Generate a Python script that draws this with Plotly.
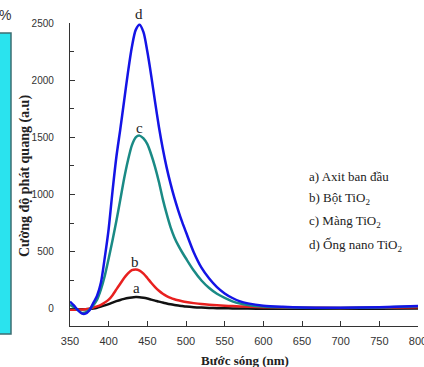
import plotly.graph_objects as go

wavelength = [350, 355, 360, 365, 370, 375, 380, 385, 390, 395, 400, 405, 410, 415, 420,
              425, 430, 435, 440, 445, 450, 455, 460, 465, 470, 475, 480, 485, 490, 495,
              500, 510, 520, 530, 540, 550, 560, 570, 580, 600, 625, 650, 700, 750, 800]

a_axit = [-5, -5, -5, -4, -3, -1, 3, 10, 20, 30, 42, 55, 67, 78, 87,
          95, 100, 103, 102, 97, 90, 81, 72, 63, 55, 47, 40, 34, 29, 25,
          21, 15, 11, 8, 6, 5, 4, 3, 2, 1, 0, 0, 0, 0, 2]

b_bot = [-8, -8, -6, -5, -3, 2, 12, 22, 35, 55, 80, 120, 170, 220, 270,
         310, 338, 345, 335, 308, 270, 228, 190, 158, 132, 112, 96, 84, 75, 67,
         60, 50, 42, 36, 31, 27, 24, 21, 19, 15, 12, 10, 8, 10, 15]

c_mang = [35, 15, -10, -35, -32, -8, 30, 80, 170, 290, 440, 600, 770, 953, 1140,
          1300, 1430, 1500, 1515, 1490, 1440, 1350, 1240, 1110, 960, 830, 715, 625, 555, 495,
          440, 335, 248, 182, 132, 96, 66, 46, 34, 20, 13, 10, 8, 12, 22]

d_ong = [64, 30, -10, -40, -42, -15, 50, 115, 230, 450, 700, 1030, 1330, 1570, 1820,
         2070, 2290, 2440, 2485, 2420, 2250, 2040, 1810, 1590, 1400, 1235, 1095, 970, 860, 760,
         670, 495, 360, 265, 190, 135, 95, 65, 48, 28, 18, 12, 10, 15, 25]

series_names = ["a", "b", "c", "d"]
series_values = [a_axit, b_bot, c_mang, d_ong]
series_colors = ["#111111", "#e8201f", "#1a8a85", "#1414e6"]

# label positions: wavelength and pixel row in the picture (converted to paper)
label_x = [436, 434.5, 439.5, 439.5]
label_py = [288, 262, 128, 14]

legend_lines = ["a) Axit ban đầu", "b) Bột TiO<sub>2</sub>",
                "c) Màng TiO<sub>2</sub>", "d) Ống nano TiO<sub>2</sub>"]
legend_py = [176, 198, 221, 245]

x_ticks = [350, 400, 450, 500, 550, 600, 650, 700, 750, 800]
y_ticks = [0, 500, 1000, 1500, 2000, 2500]

fig = go.Figure()
for name, vals, col in zip(series_names, series_values, series_colors):
    fig.add_trace(go.Scatter(x=wavelength, y=vals, mode="lines", name=name,
                             line=dict(color=col, width=2.5, shape="spline", smoothing=0.8),
                             showlegend=False))

serif = "Liberation Serif, Times New Roman, serif"
sans = "Liberation Sans Narrow, Liberation Sans, Arial, sans-serif"

def py2paper(py):
    return (326 - py) / 303

for name, lx, lpy in zip(series_names, label_x, label_py):
    fig.add_annotation(x=lx, xref="x", y=py2paper(lpy), yref="paper", text=name,
                       showarrow=False, font=dict(family=serif, size=15, color="#222"),
                       xanchor="center", yanchor="middle")

for txt, lpy in zip(legend_lines, legend_py):
    fig.add_annotation(x=(307 - 70) / 348, xref="paper", y=py2paper(lpy), yref="paper",
                       text=txt, showarrow=False, xanchor="left", yanchor="middle",
                       font=dict(family=serif, size=13, color="#222"))

# axis titles
fig.add_annotation(x=(25 - 70) / 348, xref="paper", y=py2paper(176), yref="paper",
                   text="<b>Cường độ phát quang (a.u)</b>", textangle=-90, showarrow=False,
                   xanchor="center", yanchor="middle",
                   font=dict(family=serif, size=14, color="#222"))
fig.add_annotation(x=0.503, xref="paper", y=py2paper(360), yref="paper",
                   text="<b>Bước sóng (nm)</b>", showarrow=False,
                   xanchor="center", yanchor="middle",
                   font=dict(family=serif, size=13, color="#222"))

# cropped neighbouring panel on the far left
fig.add_shape(type="rect", xref="paper", yref="paper",
              x0=-75 / 348, x1=(11 - 70) / 348, y0=py2paper(334), y1=py2paper(33),
              fillcolor="#2ae3ee", line=dict(color="#3d6d72", width=1.5), layer="below")
fig.add_annotation(x=(5 - 70) / 348, xref="paper", y=py2paper(15), yref="paper",
                   text="%", showarrow=False, xanchor="center", yanchor="middle",
                   font=dict(family=sans, size=14, color="#333"))

fig.update_xaxes(range=[350, 800], tickvals=x_ticks, ticks="inside", ticklen=5, tickwidth=1.2,
                 tickcolor="#333", showline=True, linecolor="#333", linewidth=1.3,
                 showgrid=False, zeroline=False, ticklabelstandoff=5,
                 ticklabeloverflow="allow", automargin=False,
                 tickfont=dict(family=sans, size=11, color="#333"))
fig.update_yaxes(range=[-150, 2500], tickvals=y_ticks, ticks="inside", ticklen=5, tickwidth=1.2,
                 tickcolor="#333", showline=True, linecolor="#333", linewidth=1.3,
                 showgrid=False, zeroline=False, ticklabelstandoff=13,
                 ticklabeloverflow="allow", automargin=False,
                 minor=dict(dtick=250, ticks="inside", ticklen=4, tickcolor="#333", tickwidth=1.2),
                 tickfont=dict(family=sans, size=10, color="#333"))

fig.update_layout(width=424, height=367, margin=dict(l=70, r=6, t=23, b=41, autoexpand=False),
                  paper_bgcolor="white", plot_bgcolor="white")

fig.write_html("out.html")
